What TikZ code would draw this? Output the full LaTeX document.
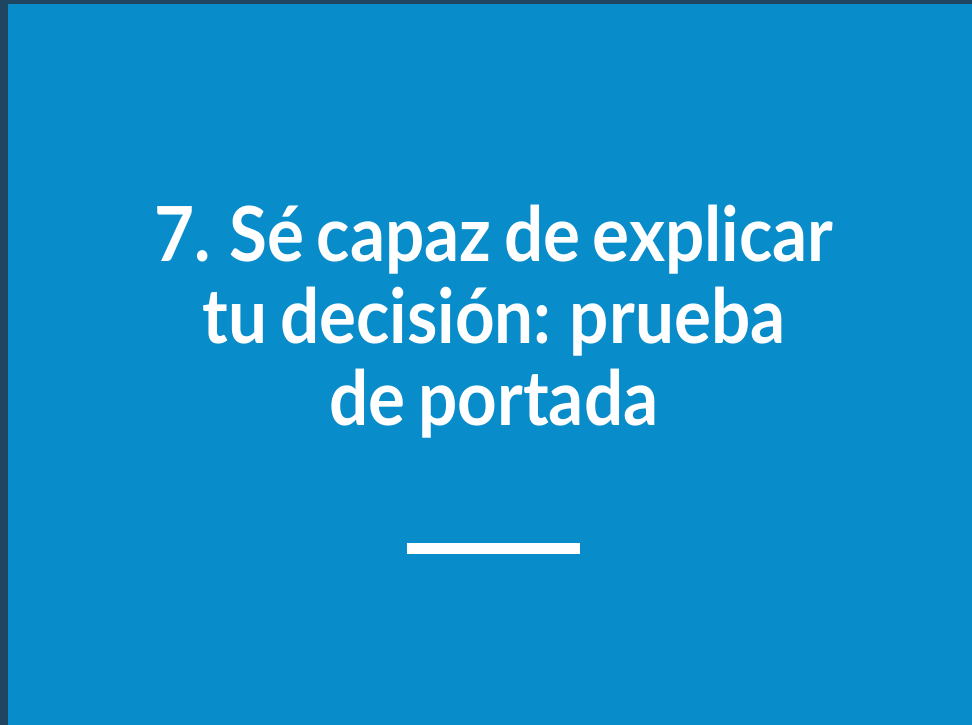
\documentclass[tikz,border=0pt]{standalone}
\usepackage{fontspec}
\setmainfont{Lato}[FakeStretch=0.91,WordSpace=0.75]
\definecolor{slideblue}{HTML}{088CCA}
\definecolor{framedark}{HTML}{1F4560}
\begin{document}
\begin{tikzpicture}[x=1pt,y=1pt,
  titletext/.style={text=white,font=\fontsize{76}{82}\selectfont\bfseries,align=center,inner sep=0pt}]
\useasboundingbox (0,0) rectangle (972,725);
\fill[framedark] (0,0) rectangle (972,725);
\fill[slideblue] (8,0) rectangle (972,721);
\node[titletext,anchor=base] (l1) at (494,{725-262}) {7. Sé capaz de explicar};
\node[titletext,anchor=base] (l2) at (494,{725-344}) {tu decisión: prueba};
\node[titletext,anchor=base] (l3) at (494,{725-426}) {de portada};
\fill[white] (407,{725-554}) rectangle (580,{725-543});
\end{tikzpicture}
\end{document}
